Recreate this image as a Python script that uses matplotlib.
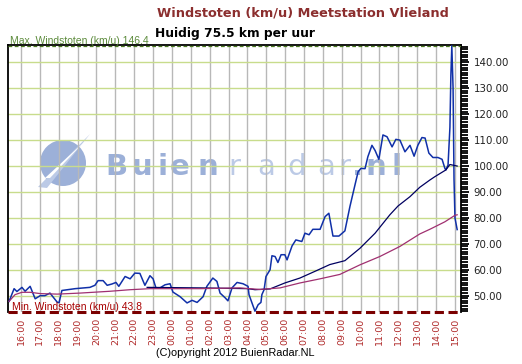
import numpy as np
import matplotlib
matplotlib.use('Agg')
import matplotlib.pyplot as plt
from matplotlib.patches import Ellipse, Polygon

# wind gusts (km/u), times (start 15:22, end next day 15:07)
gust_times = ['15:22', '15:38', '15:47', '16:03', '16:13', '16:29', '16:45', '17:01', '17:16', '17:32',
              '17:55', '18:01', '18:10', '18:52', '19:39', '19:55', '20:05', '20:21', '20:34', '20:49',
              '21:02', '21:11', '21:31', '21:47', '22:02', '22:18', '22:34', '22:50', '23:00', '23:09',
              '23:22', '23:38', '23:54', '00:03', '00:26', '00:48', '01:04', '01:20', '01:39', '01:51',
              '02:10', '02:23', '02:33', '02:49', '02:58', '03:11', '03:27', '03:46', '04:02', '04:05',
              '04:24', '04:34', '04:43', '04:46', '04:53', '04:59', '05:12', '05:18', '05:28', '05:37',
              '05:47', '05:59', '06:06', '06:22', '06:34', '06:53', '07:03', '07:16', '07:28', '07:51',
              '08:07', '08:19', '08:32', '08:51', '09:10', '09:26', '09:42', '09:52', '10:01', '10:14',
              '10:23', '10:36', '10:46', '10:58', '11:11', '11:24', '11:40', '11:52', '12:05', '12:21',
              '12:37', '12:50', '13:02', '13:15', '13:25', '13:37', '13:50', '14:06', '14:19', '14:28',
              '14:31', '14:38', '14:44', '14:47', '14:50', '14:54', '14:57', '15:00', '15:07']
gust_vals = [47.8, 52.7, 51.6, 53.2, 51.7, 53.6, 48.8, 50.0, 50.0, 51.0,
             47.5, 47.3, 52.0, 52.7, 53.2, 54.0, 55.8, 55.8, 54.0, 54.5,
             55.1, 53.6, 57.4, 56.5, 58.7, 58.6, 54.0, 57.7, 56.5, 53.0,
             53.0, 54.2, 54.6, 51.4, 49.6, 47.2, 48.2, 47.4, 49.6, 53.6,
             56.8, 55.5, 51.0, 49.2, 48.0, 53.0, 55.1, 54.6, 53.6, 50.4,
             44.0, 46.5, 47.4, 50.4, 52.3, 57.4, 60.0, 65.4, 65.1, 62.8,
             65.8, 65.8, 63.8, 69.2, 71.5, 70.9, 74.1, 73.5, 75.6, 75.6,
             80.5, 81.8, 73.0, 73.0, 75.0, 84.4, 92.7, 97.8, 99.1, 99.0,
             103.6, 108.0, 106.0, 102.6, 112.0, 111.3, 107.4, 110.3, 110.0, 105.5,
             108.0, 103.8, 108.0, 111.0, 110.8, 105.0, 103.3, 103.3, 102.6, 99.1,
             98.5, 100.4, 115.0, 135.0, 146.4, 130.0, 95.0, 80.0, 75.5]

# dark (navy) average line
avg_times = ['22:41', '01:29', '04:02', '04:24', '05:12', '05:59', '06:47', '07:35', '08:22', '09:10',
             '09:58', '10:46', '11:33', '11:59', '12:37', '13:08', '13:40', '13:56', '14:31', '14:44', '15:07']
avg_vals = [53.2, 53.0, 52.7, 52.3, 52.6, 54.9, 56.8, 59.4, 62.0, 63.5,
            68.3, 74.1, 81.2, 84.6, 88.2, 91.8, 94.6, 95.9, 98.5, 100.6, 100.0]

# purple (long) average line
trend_times = ['15:22', '15:41', '16:03', '16:29', '17:01', '17:55', '19:08', '20:43', '21:47', '22:50',
               '01:29', '03:36', '04:40', '05:44', '06:47', '07:51', '08:54', '09:58', '11:01', '12:05',
               '13:08', '13:40', '14:28', '15:00', '15:07']
trend_vals = [47.8, 50.4, 51.3, 51.3, 50.8, 50.6, 51.0, 51.7, 52.3, 52.7,
              52.7, 53.0, 52.4, 53.0, 54.9, 56.5, 58.2, 61.9, 65.1, 69.0,
              73.8, 75.6, 78.5, 81.0, 81.2]

max_gust = 146.4
min_gust = 43.8
current = 75.5
hour_ticks = list(range(16, 40))
y_ticks = list(range(50, 150, 10))


def to_hours(times):
    out = []
    day = 0
    prev = -1
    for s in times:
        h, m = map(int, s.split(':'))
        mins = h * 60 + m
        if mins < prev:
            day += 1
        prev = mins
        out.append(day * 24 + mins / 60)
    return np.array(out)


W, H = 522, 364
fig = plt.figure(figsize=(W / 100, H / 100), dpi=100)
L, R, T, B = 8, 461, 45, 312
rect = [L / W, 1 - B / H, (R - L) / W, (B - T) / H]

# watermark sits in its own axes behind the chart so the grid runs over it
bg = fig.add_axes(rect, zorder=0)
bg.set_xlim(L, R)
bg.set_ylim(B, T)
bg.axis('off')
wm_dark = '#9cb0d8'
wm_light = '#bccae6'
bg.add_patch(Ellipse((63, 163), 46, 46, color=wm_dark, lw=0))
bg.add_patch(Polygon([(38, 187), (47, 188), (90, 134)], closed=True, color=wm_light, lw=0))
bg.add_patch(Polygon([(45, 178), (50, 178), (84, 142)], closed=True, color='white', lw=0))
letters = [('B', 105, 'bold', wm_dark), ('u', 132, 'bold', wm_dark), ('i', 157, 'bold', wm_dark),
           ('e', 170, 'bold', wm_dark), ('n', 197, 'bold', wm_dark),
           ('r', 228, 'normal', wm_light), ('a', 257, 'normal', wm_light), ('d', 287, 'normal', wm_light),
           ('a', 317, 'normal', wm_light), ('r', 338, 'normal', wm_light),
           ('.', 352, 'bold', wm_dark), ('n', 366, 'bold', wm_dark), ('l', 391, 'bold', wm_dark)]
for ch, x, wt, c in letters:
    bg.text(x, 175, ch, fontsize=21, fontweight=wt, color=c, ha='left', va='baseline')

ax = fig.add_axes(rect, zorder=1)
ax.patch.set_alpha(0)

ax.plot(to_hours(gust_times), gust_vals, color='#1030a8', lw=1.1, zorder=3)
ax.plot(to_hours(avg_times), avg_vals, color='#000060', lw=0.9, zorder=4)
ax.plot(to_hours(trend_times), trend_vals, color='#a03070', lw=0.9, zorder=4)

ax.axhline(max_gust, color='#4a7a20', lw=0.9, ls=(0, (3, 2)), zorder=5)
ax.axhline(min_gust, color='#7a0000', lw=2.2, ls=(0, (3, 1.5)), zorder=5, clip_on=False)

ax.set_xlim(15.31, 39.32)
ax.set_ylim(min_gust - 0.1, max_gust + 0.3)

ax.set_xticks(hour_ticks)
ax.set_xticklabels(['%02d:00' % (h % 24) for h in hour_ticks], rotation=90,
                   fontsize=6.8, color='#b02a2a')
ax.tick_params(axis='x', length=0, pad=4)

ax.yaxis.tick_right()
ax.set_yticks(y_ticks)
ax.set_yticklabels(['%.2f' % v for v in y_ticks], fontsize=7.4, color='#222222')
ax.set_yticks(np.arange(44, 147, 1), minor=True)
ax.tick_params(axis='y', which='major', length=6, width=1.3, pad=3, color='black')
ax.tick_params(axis='y', which='minor', length=5, width=1.3, color='black')

ax.set_axisbelow(True)
ax.grid(axis='x', color='#b8b8b8', lw=1.0)
ax.grid(axis='y', color='#c8dc8c', lw=1.0)
for side in ['left', 'top', 'right']:
    ax.spines[side].set_color('black')
    ax.spines[side].set_linewidth(1.3)
ax.spines['bottom'].set_visible(False)

ax.text(2 / (R - L), 1 + 0.5 / (B - T), 'Max. Windstoten (km/u) 146.4', transform=ax.transAxes,
        fontsize=7.5, family='Liberation Sans', color='#5b8a3a', ha='left', va='baseline',
        clip_on=False)
ax.text(4 / (R - L), 2 / (B - T), 'Min. Windstoten (km/u) 43.8', transform=ax.transAxes,
        fontsize=7.5, family='Liberation Sans', color='#a80000', ha='left', va='baseline')

fig.text(157 / W, 1 - 17 / H, 'Windstoten (km/u) Meetstation Vlieland', fontsize=9.3,
         fontweight='bold', color='#8b2e2e', ha='left', va='baseline')
fig.text(155 / W, 1 - 37 / H, 'Huidig %.1f km per uur' % current, fontsize=8.8,
         fontweight='bold', color='black', ha='left', va='baseline')
fig.text(235 / W, 1 - 353 / H, '(C)opyright 2012 BuienRadar.NL', fontsize=7.8,
         family='Liberation Sans', color='black', ha='center', va='center')

fig.savefig('out.png', dpi=100)
